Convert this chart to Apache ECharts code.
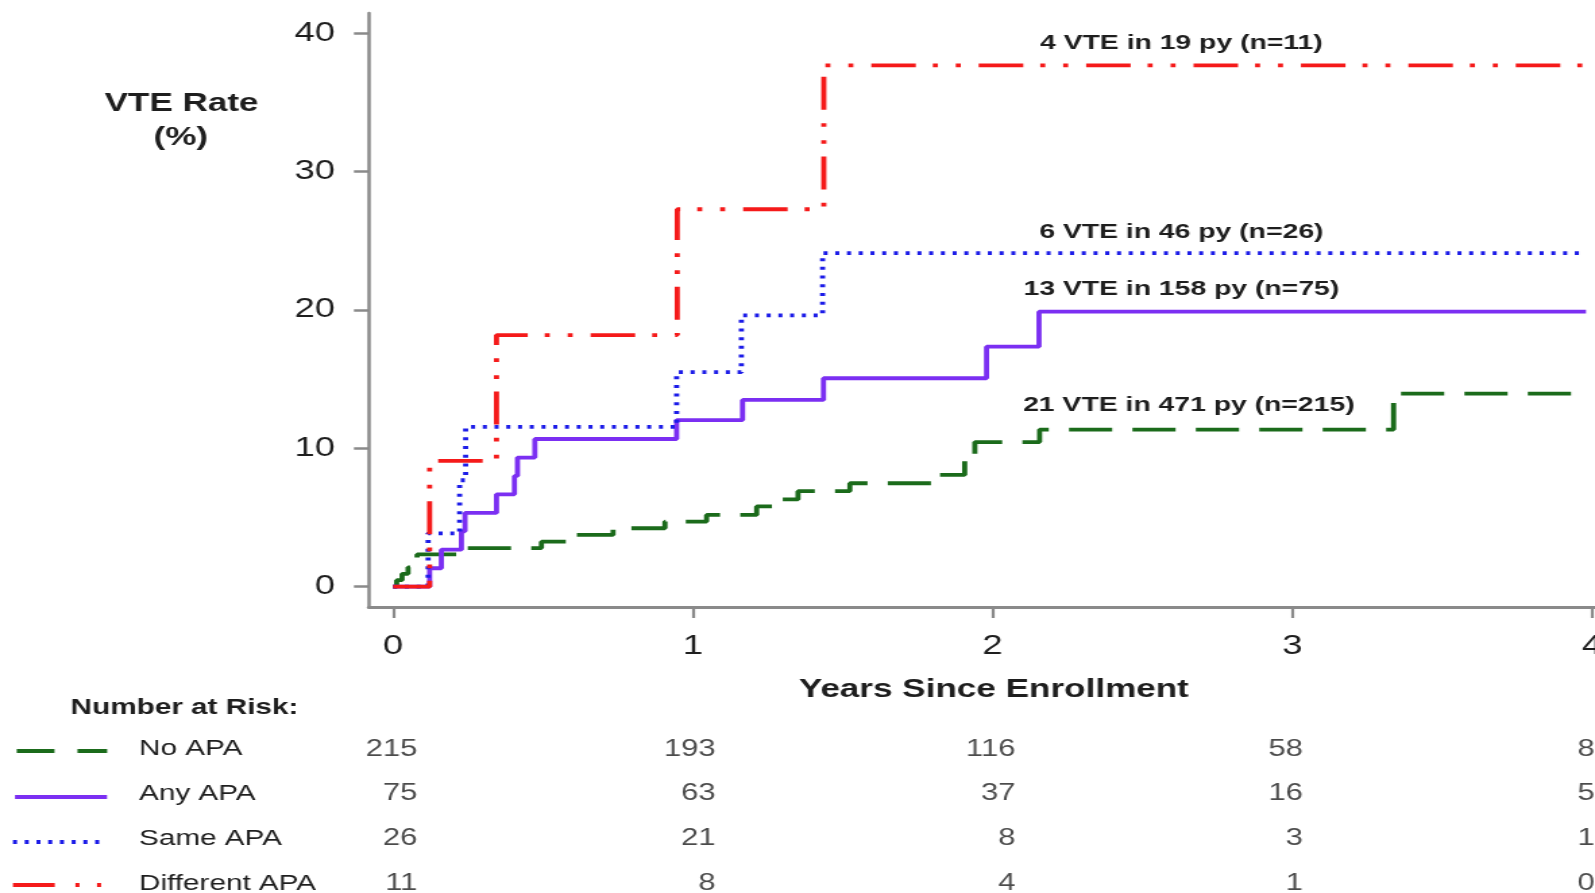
<!DOCTYPE html>
<html>
<head>
<meta charset="utf-8">
<script src="https://cdn.jsdelivr.net/npm/echarts@6/dist/echarts.min.js"></script>
<style>
  html, body { margin: 0; padding: 0; background: #fff; }
  #wrap { width: 1595px; height: 893px; overflow: hidden; }
  /* the source figure is stretched sideways, so the chart is drawn narrower and scaled */
  #chart { width: 1182px; height: 893px; transform: scaleX(1.3494); transform-origin: 0 0; }
</style>
</head>
<body>
<div id="wrap"><div id="chart"></div></div>
<script>
// cumulative VTE rate (%), [years, rate] step points
const noApa = [[0, 0], [0.012, 0.47], [0.03, 0.93], [0.05, 1.4], [0.065, 1.86], [0.08, 2.33], [0.239, 2.79], [0.495, 3.25], [0.606, 3.74], [0.734, 4.22], [0.907, 4.7], [1.046, 5.18], [1.213, 5.8], [1.3, 6.3], [1.351, 6.9], [1.524, 7.47], [1.82, 8.07], [1.907, 9.16], [1.941, 10.45], [2.157, 11.35], [3.338, 13.95], [3.98, 13.95]];
const anyApa = [[0, 0], [0.122, 1.33], [0.161, 2.67], [0.228, 4.0], [0.24, 5.33], [0.345, 6.67], [0.405, 8.0], [0.415, 9.33], [0.473, 10.67], [0.946, 12.04], [1.166, 13.49], [1.436, 15.06], [1.98, 17.34], [2.155, 19.87], [3.98, 19.87]];
const sameApa = [[0, 0], [0.117, 3.85], [0.222, 7.69], [0.242, 11.54], [0.946, 15.5], [1.162, 19.6], [1.433, 24.1], [3.98, 24.1]];
const diffApa = [[0, 0], [0.122, 9.09], [0.345, 18.18], [0.948, 27.27], [1.437, 37.66], [3.98, 37.66]];

const groupNames = ["No APA", "Any APA", "Same APA", "Different APA"];
const annotations = ["21 VTE in 471 py (n=215)", "13 VTE in 158 py (n=75)", "6 VTE in 46 py (n=26)", "4 VTE in 19 py (n=11)"];

// number at risk
const riskTimes = [0, 1, 2, 3, 4];
const riskNoApa = [215, 193, 116, 58, 8];
const riskAnyApa = [75, 63, 37, 16, 5];
const riskSameApa = [26, 21, 8, 3, 1];
const riskDiffApa = [11, 8, 4, 1, 0];

const xTicks = [0, 1, 2, 3, 4];
const yTicks = [0, 10, 20, 30, 40];

const COLORS = ["#1b6b1b", "#7b2ff2", "#1c1ce8", "#f51a1a"];
const DASHES = [[32, 15], "solid", [3, 5.7], [33, 12.6, 3.7, 13.3, 3.7, 13.3]];
const FONT = "'Liberation Sans', Arial, sans-serif";
const TEXT = "#1e1e1e";
const AXIS = "#8a8a8a";

// where the annotation text sits, in data coords
const annotAt = [[2.655, 13.1], [2.63, 21.5], [2.63, 25.6], [2.63, 39.25]];
const riskShift = [18, 17, 17, 8, 2];

const curves = [noApa, anyApa, sameApa, diffApa];
const riskRows = [riskNoApa, riskAnyApa, riskSameApa, riskDiffApa];

const lineSeries = curves.map((data, i) => ({
  name: groupNames[i],
  type: "line",
  xAxisIndex: 0,
  yAxisIndex: 0,
  step: "end",
  symbol: "none",
  data,
  lineStyle: { color: COLORS[i], width: 3.8, type: DASHES[i], cap: "butt" },
  markPoint: {
    symbol: "circle",
    symbolSize: 1,
    itemStyle: { color: "rgba(0,0,0,0)" },
    label: {
      show: true,
      position: "inside",
      formatter: annotations[i],
      color: TEXT,
      fontFamily: FONT,
      fontWeight: "bold",
      fontSize: 21
    },
    data: [{ coord: annotAt[i] }]
  }
}));

const riskData = [];
riskRows.forEach((row, r) => {
  row.forEach((n, c) => {
    riskData.push({
      value: [riskTimes[c], groupNames[r], n],
      label: { offset: [riskShift[c], 0] }
    });
  });
});

const riskSeries = {
  type: "scatter",
  xAxisIndex: 1,
  yAxisIndex: 1,
  symbolSize: 1,
  itemStyle: { color: "rgba(0,0,0,0)" },
  data: riskData,
  label: {
    show: true,
    position: "inside",
    align: "right",
    formatter: (p) => p.value[2],
    color: TEXT,
    fontFamily: FONT,
    fontSize: 23
  }
};

const legendY = [751, 797, 842, 885];
const legendLines = [
  { x1: 12.4, x2: 79.4, dash: [28, 17] },
  { x1: 11.1, x2: 79.3, dash: null },
  { x1: 9.6, x2: 74.5, dash: [3, 5.7] },
  { x1: 9.6, x2: 77, dash: [31, 15.3, 3, 13, 3, 100] }
].map((l, i) => ({
  type: "line",
  shape: { x1: l.x1, y1: legendY[i], x2: l.x2, y2: legendY[i] },
  style: { stroke: COLORS[i], lineWidth: 3.8, lineDash: l.dash, lineCap: "butt" }
}));

const titleText = (text, x, y, size) => ({
  type: "text",
  x,
  y,
  style: { text, fill: TEXT, font: `bold ${size}px ${FONT}`, align: "center", verticalAlign: "middle" }
});

const option = {
  animation: false,
  backgroundColor: "#fff",
  grid: [
    { left: 273.3, right: 0, top: 13, bottom: 286, outerBoundsMode: "none" },
    { left: 273.3, right: 0, top: 727, height: 178.8, outerBoundsMode: "none" }
  ],
  xAxis: [
    {
      gridIndex: 0,
      type: "value",
      min: -0.081,
      max: 4.01,
      splitLine: { show: false },
      axisLine: { onZero: false, lineStyle: { color: AXIS, width: 3 } },
      axisTick: { customValues: xTicks, length: 11, lineStyle: { color: AXIS, width: 2.2 } },
      axisLabel: { customValues: xTicks, margin: 26, color: TEXT, fontFamily: FONT, fontSize: 27 }
    },
    { gridIndex: 1, type: "value", min: -0.081, max: 4.01, show: false }
  ],
  yAxis: [
    {
      gridIndex: 0,
      type: "value",
      min: -1.47,
      max: 41.45,
      splitLine: { show: false },
      axisLine: { onZero: false, lineStyle: { color: AXIS, width: 2.5 } },
      axisTick: { customValues: yTicks, length: 11, lineStyle: { color: AXIS, width: 2.5 } },
      axisLabel: { customValues: yTicks, margin: 25, color: TEXT, fontFamily: FONT, fontSize: 27 }
    },
    {
      gridIndex: 1,
      type: "category",
      inverse: true,
      data: groupNames,
      axisLine: { show: false },
      axisTick: { show: false },
      axisLabel: { align: "left", margin: 170.3, color: TEXT, fontFamily: FONT, fontSize: 22 }
    }
  ],
  graphic: [
    titleText("VTE Rate", 134.5, 104, 26),
    titleText("(%)", 134, 138, 26),
    titleText("Years Since Enrollment", 736.5, 690, 26),
    titleText("Number at Risk:", 136.7, 708, 22),
    ...legendLines
  ],
  series: [...lineSeries, riskSeries]
};

const chart = echarts.init(document.getElementById("chart"));
chart.setOption(option);
</script>
</body>
</html>
